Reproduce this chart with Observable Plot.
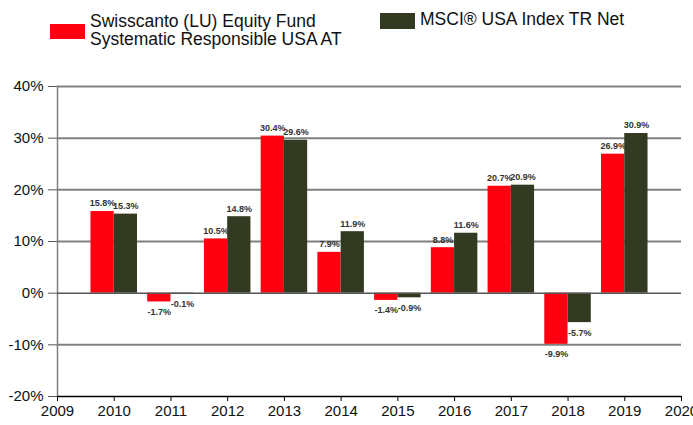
<!DOCTYPE html>
<html>
<head>
<meta charset="utf-8">
<script src="https://cdn.jsdelivr.net/npm/d3@7"></script>
<script src="https://cdn.jsdelivr.net/npm/@observablehq/plot@0.6"></script>
<style>
  html, body { margin: 0; padding: 0; background: #fff; }
  body { width: 693px; height: 425px; overflow: hidden; font-family: "Liberation Sans", Arial, sans-serif; }
  #legend { position: relative; height: 70px; width: 693px; }
  .sw { position: absolute; }
  .lt { position: absolute; font-size: 17.5px; line-height: 17.5px; color: #111; white-space: nowrap; }
</style>
</head>
<body>
<div id="legend"></div>
<div id="chart"></div>
<script>
const years = [2010, 2011, 2012, 2013, 2014, 2015, 2016, 2017, 2018, 2019];
const fund = [15.8, -1.7, 10.5, 30.4, 7.9, -1.4, 8.8, 20.7, -9.9, 26.9];
const bench = [15.3, -0.1, 14.8, 29.6, 11.9, -0.9, 11.6, 20.9, -5.7, 30.9];
const seriesNames = ["Swisscanto (LU) Equity Fund\nSystematic Responsible USA AT", "MSCI® USA Index TR Net"];
const colors = ["#ff0010", "#333a22"];
const yTicks = [-20, -10, 0, 10, 20, 30, 40];
const xTicks = [2009, 2010, 2011, 2012, 2013, 2014, 2015, 2016, 2017, 2018, 2019, 2020];

// legend
const legend = document.getElementById("legend");
const legendPos = [
  {sw: [50, 24, 35, 15], tx: [90, 13]},
  {sw: [380, 13, 35, 16], tx: [420, 11]}
];
seriesNames.forEach((name, i) => {
  const s = document.createElement("div");
  s.className = "sw";
  const [l, t, w, h] = legendPos[i].sw;
  Object.assign(s.style, {left: l + "px", top: t + "px", width: w + "px", height: h + "px", background: colors[i]});
  legend.appendChild(s);
  const tx = document.createElement("div");
  tx.className = "lt";
  tx.style.left = legendPos[i].tx[0] + "px";
  tx.style.top = legendPos[i].tx[1] + "px";
  tx.innerHTML = name.split("\n").join("<br>");
  legend.appendChild(tx);
});

const data = [];
years.forEach((y, i) => {
  data.push({year: y, series: 0, value: fund[i]});
  data.push({year: y, series: 1, value: bench[i]});
});
const bw = 0.41;
const x1 = d => d.year - bw + d.series * bw;
const x2 = d => d.year + d.series * bw;
const xc = d => d.year - bw / 2 + d.series * bw;
const fmt = v => v.toFixed(1) + "%";

const chart = Plot.plot({
  width: 693,
  height: 355,
  marginLeft: 57,
  marginRight: 12,
  marginTop: 16,
  marginBottom: 29,
  style: {fontFamily: "Liberation Sans, Arial, sans-serif", background: "#fff"},
  x: {domain: [2009, 2020], ticks: xTicks, tickFormat: d => String(d), label: null},
  y: {domain: [-20, 40], ticks: yTicks, tickFormat: d => d + "%", label: null},
  marks: [
    Plot.ruleY(yTicks.filter(t => t !== 0 && t !== -20), {stroke: "#808080", strokeWidth: 2}),
    Plot.ruleX([2009], {stroke: "#808080", strokeWidth: 1.5}),
    Plot.rect(data, {x1, x2, y1: 0, y2: "value", fill: d => colors[d.series]}),
    Plot.ruleY([0], {stroke: "#555", strokeWidth: 1.5}),
    Plot.ruleY([-20], {stroke: "#000", strokeWidth: 1.5}),
    Plot.text(data.filter(d => d.value >= 0), {x: xc, y: "value", text: d => fmt(d.value), dy: -8, fontSize: 9, fontWeight: "bold", fill: "#333"}),
    Plot.text(data.filter(d => d.value < 0), {x: xc, y: "value", text: d => fmt(d.value), dy: 10, fontSize: 9, fontWeight: "bold", fill: "#333"}),
    Plot.axisX({ticks: xTicks, tickFormat: d => String(d), tickSize: 5, tickPadding: 4, fontSize: 15, stroke: "#000", fill: "#111", label: null}),
    Plot.axisY({ticks: yTicks, tickFormat: d => d + "%", tickSize: 9, tickPadding: 5, fontSize: 15, stroke: "#555", fill: "#111", label: null})
  ]
});
document.getElementById("chart").appendChild(chart);
</script>
</body>
</html>
